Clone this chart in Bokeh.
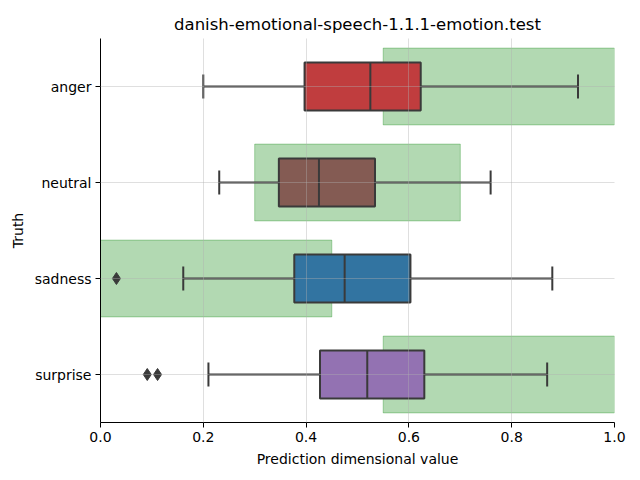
from bokeh.plotting import figure
from bokeh.models import FactorRange, Range1d, FixedTicker, PrintfTickFormatter, ColumnDataSource
from bokeh.transform import dodge
from bokeh.embed import file_html
from bokeh.resources import INLINE

categories = ["anger", "neutral", "sadness", "surprise"]
colors = ["#c03d3e", "#845b53", "#3274a1", "#9372b2"]
whisker_low = [0.20, 0.231, 0.161, 0.21]
q1 = [0.397, 0.347, 0.377, 0.427]
median = [0.525, 0.425, 0.475, 0.519]
q3 = [0.623, 0.534, 0.603, 0.630]
whisker_high = [0.929, 0.759, 0.879, 0.869]
green_low = [0.55, 0.30, 0.0, 0.55]
green_high = [1.0, 0.70, 0.45, 1.0]
outlier_cat = ["sadness", "surprise", "surprise"]
outlier_val = [0.031, 0.091, 0.111]
x_ticks = [0.0, 0.2, 0.4, 0.6, 0.8, 1.0]

FONT = "DejaVu Sans"
DARK = "#3a3a3a"

p = figure(
    y_range=FactorRange(factors=list(reversed(categories)), range_padding=0),
    x_range=Range1d(0, 1),
    frame_width=514, frame_height=384,
    min_border_left=100, min_border_right=26, min_border_top=38, min_border_bottom=58,
    output_backend="svg", toolbar_location=None,
    title="danish-emotional-speech-1.1.1-emotion.test",
)
p.outline_line_color = None
p.background_fill_color = "white"

src = ColumnDataSource(dict(cat=categories, color=colors, lo=whisker_low, q1=q1, med=median,
                            q3=q3, hi=whisker_high, gl=green_low, gh=green_high))

# green expected ranges
p.hbar(y="cat", left="gl", right="gh", height=0.8, source=src,
       fill_color="green", fill_alpha=0.3, line_color="green", line_alpha=0.3, line_width=1)

# whiskers
p.segment(x0="lo", x1="q1", y0="cat", y1="cat", source=src, line_color=DARK, line_width=2)
p.segment(x0="q3", x1="hi", y0="cat", y1="cat", source=src, line_color=DARK, line_width=2)
p.segment(x0="lo", x1="lo", y0=dodge("cat", -0.125, range=p.y_range),
          y1=dodge("cat", 0.125, range=p.y_range), source=src, line_color=DARK, line_width=2)
p.segment(x0="hi", x1="hi", y0=dodge("cat", -0.125, range=p.y_range),
          y1=dodge("cat", 0.125, range=p.y_range), source=src, line_color=DARK, line_width=2)

# boxes
p.hbar(y="cat", left="q1", right="q3", height=0.5, source=src,
       fill_color="color", line_color=DARK, line_width=2)
p.segment(x0="med", x1="med", y0=dodge("cat", -0.25, range=p.y_range),
          y1=dodge("cat", 0.25, range=p.y_range), source=src, line_color=DARK, line_width=2)

# outliers
p.scatter(x=outlier_val, y=outlier_cat, marker="diamond", size=12,
          fill_color=DARK, line_color=DARK)

# axes
p.xaxis.ticker = FixedTicker(ticks=x_ticks)
p.xaxis.formatter = PrintfTickFormatter(format="%.1f")
p.xaxis.axis_label = "Prediction dimensional value"
p.yaxis.axis_label = "Truth"
for ax in (p.xaxis, p.yaxis):
    ax.axis_line_color = "black"
    ax.axis_line_width = 1
    ax.major_tick_line_color = "black"
    ax.major_tick_in = 0
    ax.major_tick_out = 5
    ax.minor_tick_line_color = None
    ax.major_label_text_font = FONT
    ax.major_label_text_font_size = "14px"
    ax.major_label_text_color = "black"
    ax.axis_label_text_font = FONT
    ax.axis_label_text_font_size = "14px"
    ax.axis_label_text_font_style = "normal"
    ax.axis_label_text_color = "black"
    ax.axis_label_standoff = 6
    ax.major_label_standoff = 4

p.xgrid.ticker = FixedTicker(ticks=x_ticks)
for g in (p.xgrid, p.ygrid):
    g.grid_line_color = "#b0b0b0"
    g.grid_line_alpha = 0.4
    g.grid_line_width = 1
    g.level = "overlay"

p.title.align = "center"
p.title.text_font = FONT
p.title.text_font_size = "16.5px"
p.title.text_font_style = "normal"
p.title.text_color = "black"

open("out.html", "w").write(file_html(p, INLINE))
